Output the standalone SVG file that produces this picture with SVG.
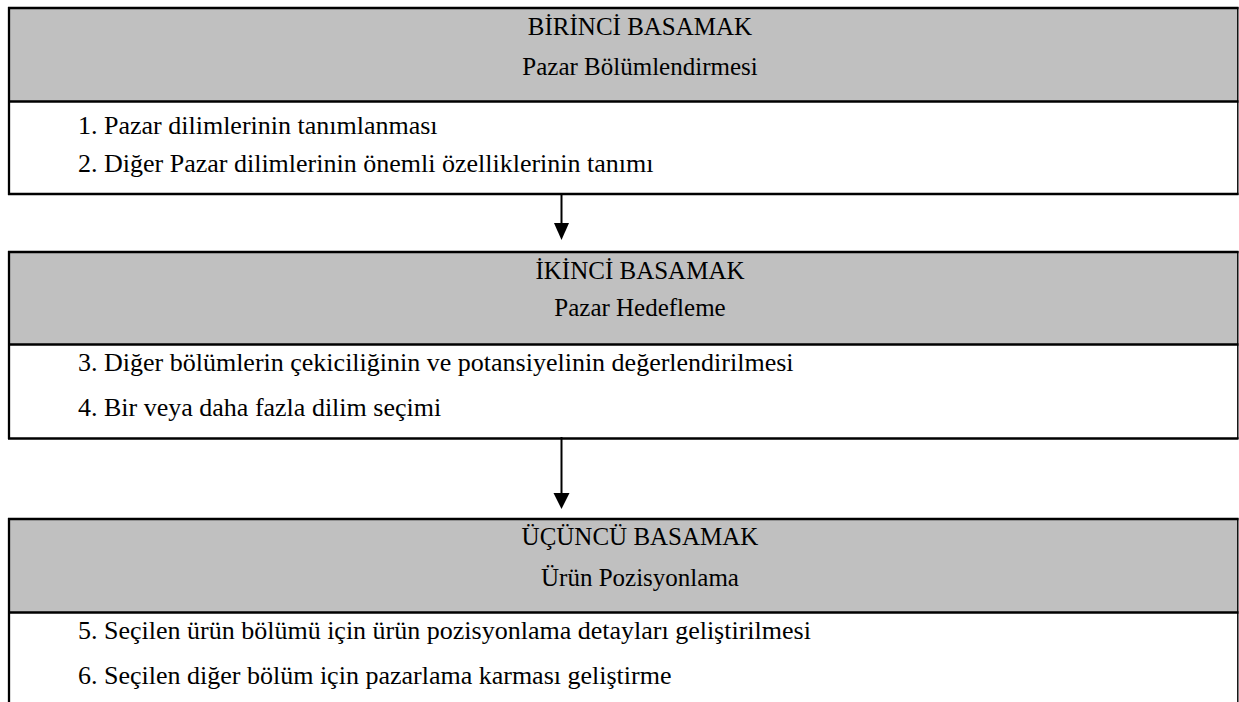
<svg xmlns="http://www.w3.org/2000/svg" width="1239" height="702" viewBox="0 0 1239 702">
<style>
.hdr{fill:#c0c0c0;stroke:none}
.bd{stroke:#000;stroke-width:2.3;fill:none}
.rt{stroke:#000;stroke-width:1.4;fill:none}
.ht{font-family:'Liberation Serif','Times New Roman',serif;font-size:25px;fill:#000;text-anchor:middle}
.it{font-family:'Liberation Serif','Times New Roman',serif;font-size:26px;fill:#000}
.cn{stroke:#000;stroke-width:2}
</style>
<rect width="1239" height="702" fill="#fff"/>
<g id="step1">
<rect class="hdr" x="9" y="8" width="1229" height="93"/>
<line class="bd" x1="8" y1="8" x2="1238.5" y2="8"/>
<line class="bd" x1="9" y1="7" x2="9" y2="195"/>
<line class="rt" x1="1237.8" y1="7" x2="1237.8" y2="195"/>
<line class="bd" x1="8" y1="101.5" x2="1238.5" y2="101.5"/>
<line class="bd" x1="8" y1="194" x2="1238.5" y2="194"/>
<text class="ht" x="640" y="35">BİRİNCİ BASAMAK</text>
<text class="ht" x="640" y="75">Pazar Bölümlendirmesi</text>
<text class="it" x="78" y="134">1. Pazar dilimlerinin tanımlanması</text>
<text class="it" x="78" y="172">2. Diğer Pazar dilimlerinin önemli özelliklerinin tanımı</text>
</g>
<g id="step2">
<rect class="hdr" x="9" y="252" width="1229" height="92"/>
<line class="bd" x1="8" y1="252" x2="1238.5" y2="252"/>
<line class="bd" x1="9" y1="251" x2="9" y2="439"/>
<line class="rt" x1="1237.8" y1="251" x2="1237.8" y2="439"/>
<line class="bd" x1="8" y1="344.5" x2="1238.5" y2="344.5"/>
<line class="bd" x1="8" y1="438.5" x2="1238.5" y2="438.5"/>
<text class="ht" x="640" y="279">İKİNCİ BASAMAK</text>
<text class="ht" x="640" y="316">Pazar Hedefleme</text>
<text class="it" x="78" y="371">3. Diğer bölümlerin çekiciliğinin ve potansiyelinin değerlendirilmesi</text>
<text class="it" x="78" y="416">4. Bir veya daha fazla dilim seçimi</text>
</g>
<g id="step3">
<rect class="hdr" x="9" y="519" width="1229" height="93"/>
<line class="bd" x1="8" y1="519" x2="1238.5" y2="519"/>
<line class="bd" x1="9" y1="518" x2="9" y2="702"/>
<line class="rt" x1="1237.8" y1="518" x2="1237.8" y2="702"/>
<line class="bd" x1="8" y1="612.5" x2="1238.5" y2="612.5"/>
<text class="ht" x="640" y="545">ÜÇÜNCÜ BASAMAK</text>
<text class="ht" x="640" y="586">Ürün Pozisyonlama</text>
<text class="it" x="78" y="639">5. Seçilen ürün bölümü için ürün pozisyonlama detayları geliştirilmesi</text>
<text class="it" x="78" y="684">6. Seçilen diğer bölüm için pazarlama karması geliştirme</text>
</g>
<g id="connectors">
<line class="cn" x1="561.5" y1="195" x2="561.5" y2="225"/>
<polygon points="554,223 569,223 561.5,240"/>
<line class="cn" x1="561.5" y1="437" x2="561.5" y2="495"/>
<polygon points="553.5,493 569.5,493 561.5,509"/>
</g>
</svg>
